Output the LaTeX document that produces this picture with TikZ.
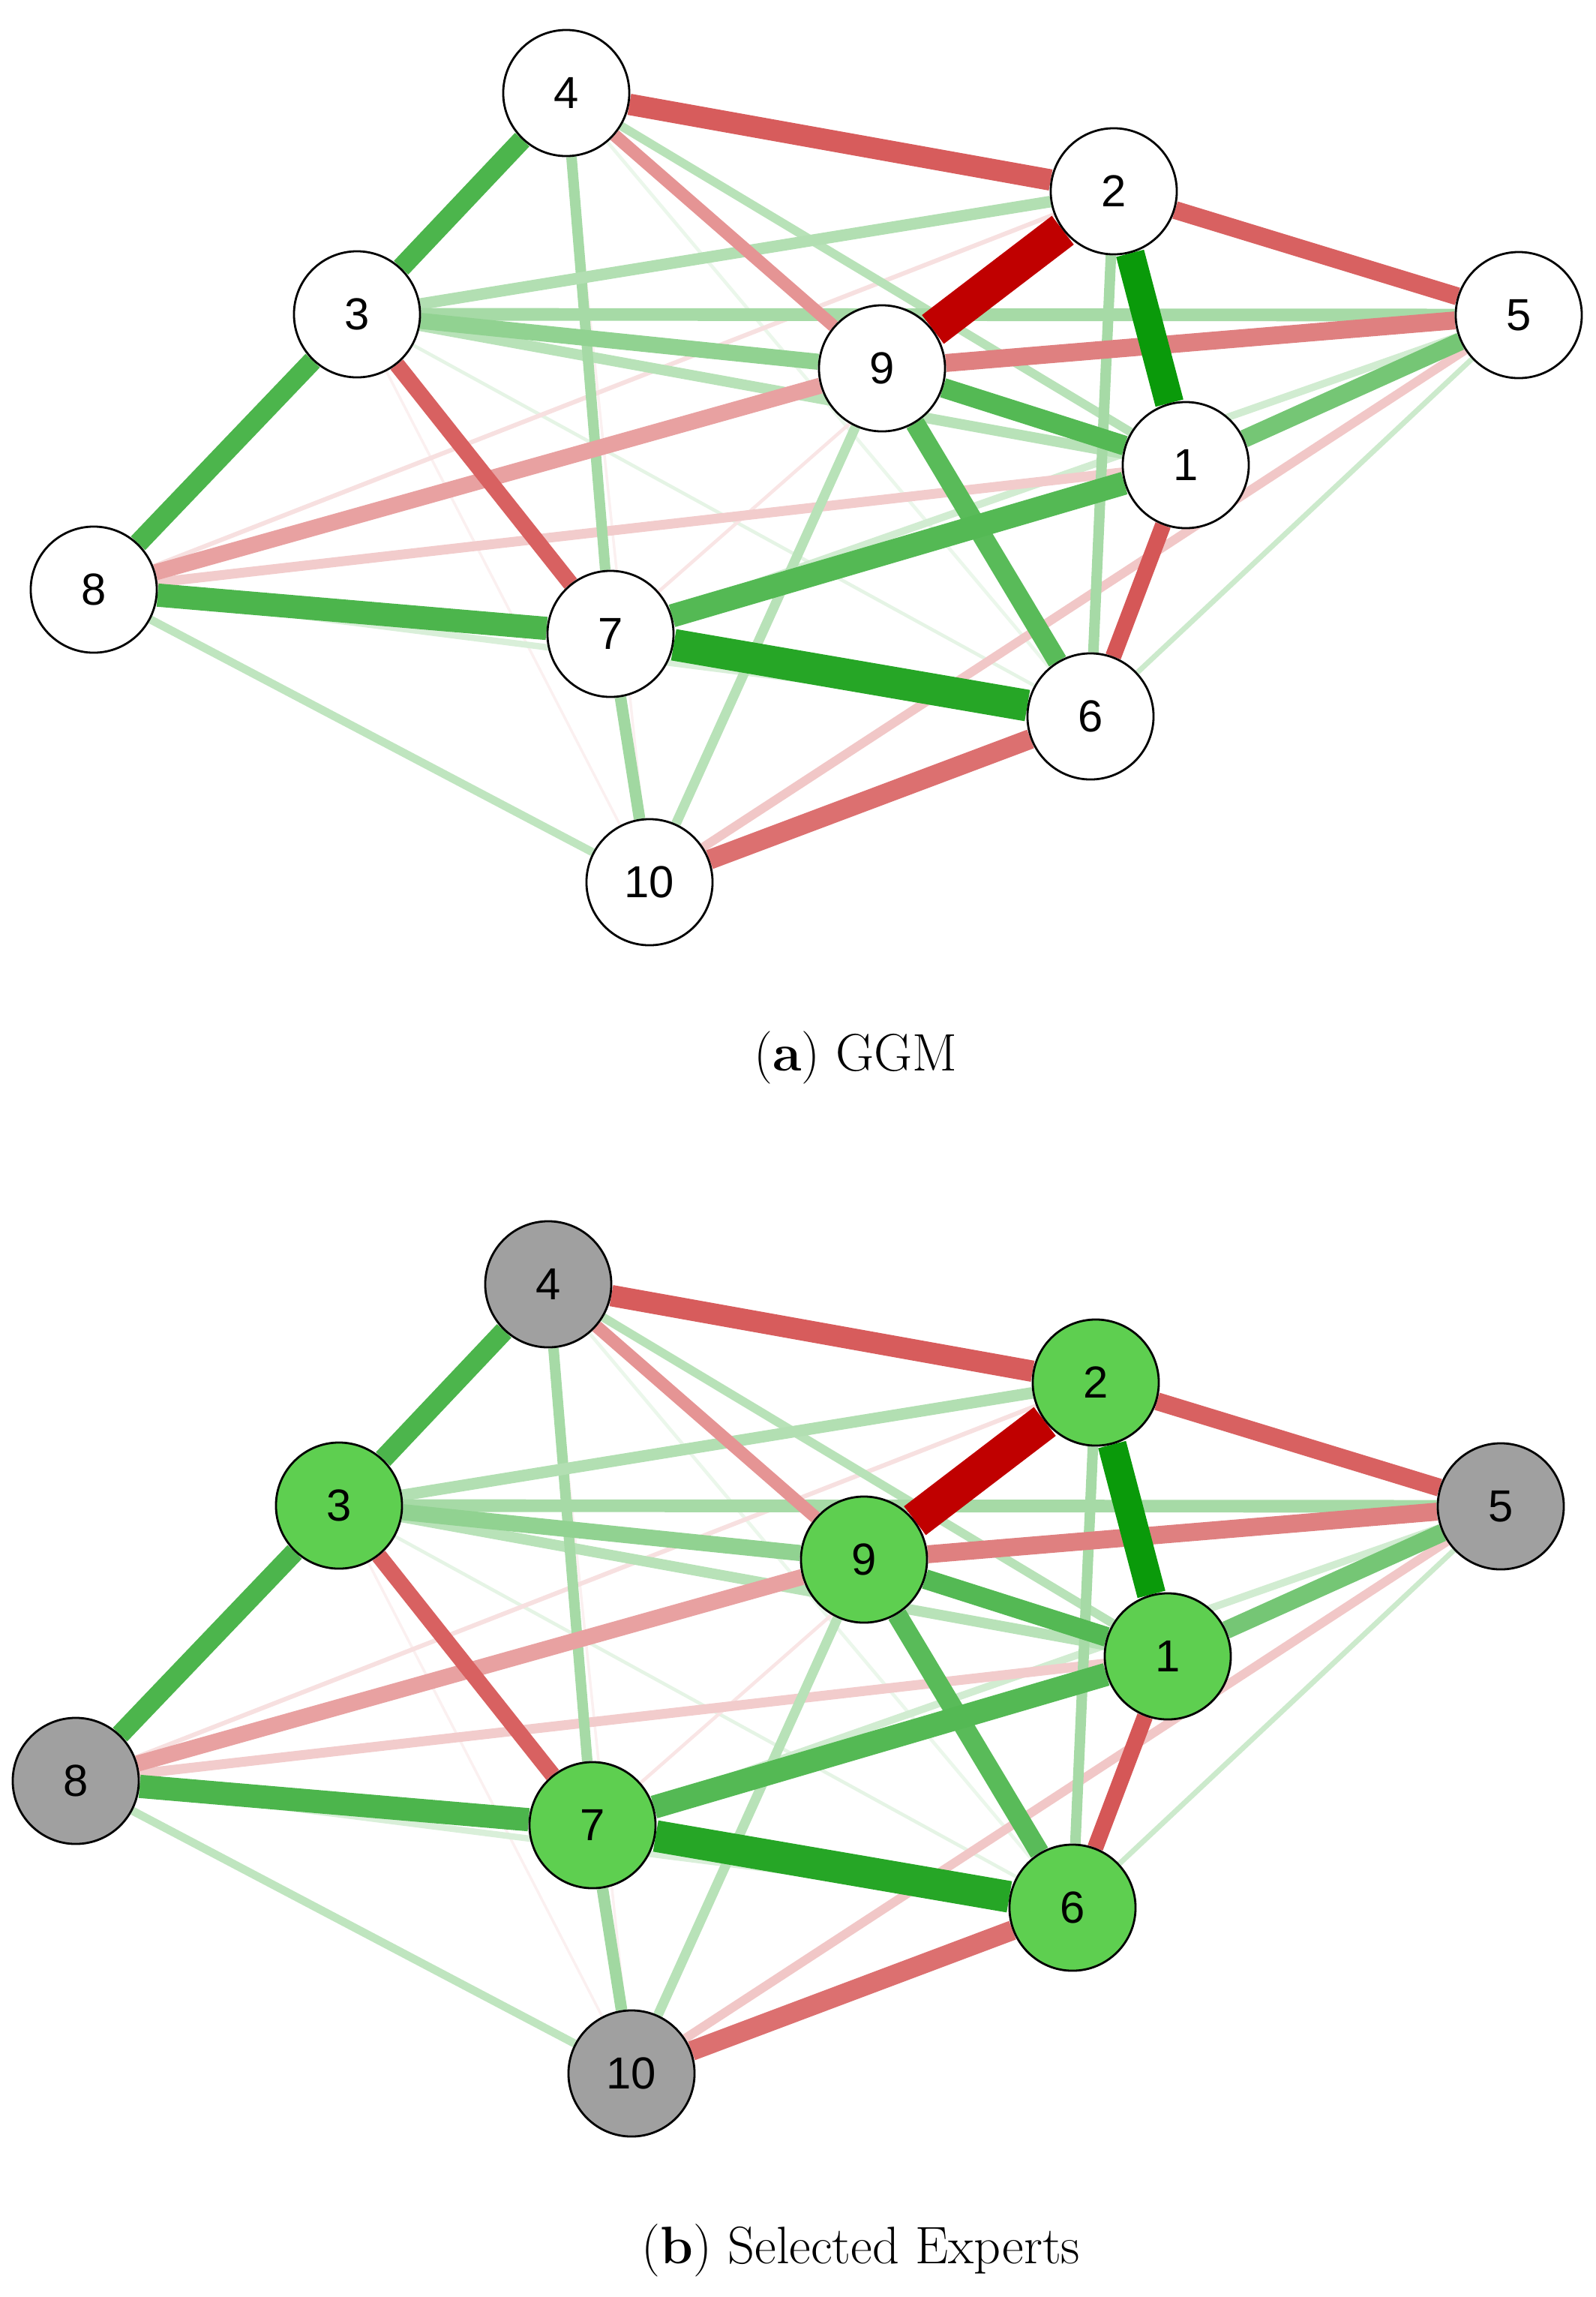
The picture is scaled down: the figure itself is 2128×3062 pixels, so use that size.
\documentclass[tikz,border=0pt]{standalone}
\usepackage{fontspec}
\setsansfont{Liberation Sans}
\usetikzlibrary{backgrounds}

\definecolor{posgreen}{RGB}{0,150,0}
\definecolor{negred}{RGB}{192,0,0}
\definecolor{selgreen}{RGB}{94,207,80}
\definecolor{restgray}{RGB}{160,160,160}

\tikzset{
  vertex/.style={circle, draw, line width=0.8pt, fill=white, minimum size=1.68cm,
    inner sep=0pt, font=\sffamily\fontsize{17}{17}\selectfont},
  expert/.style={vertex, fill=selgreen},
  nonexpert/.style={vertex, fill=restgray},
  caption/.style={font=\fontsize{20}{24}\selectfont}
}

\begin{document}
\begin{tikzpicture}[x=0.01cm, y=-0.01cm]
    \useasboundingbox (0,0) rectangle (2128,3062);

    % Draw nodes of (a)
    \node[vertex] (a1) at (1581,620) {1};
    \node[vertex] (a2) at (1485,255) {2};
    \node[vertex] (a3) at (476,419) {3};
    \node[vertex] (a4) at (755,124) {4};
    \node[vertex] (a5) at (2025,420) {5};
    \node[vertex] (a6) at (1454,955) {6};
    \node[vertex] (a7) at (814,845) {7};
    \node[vertex] (a8) at (125,786) {8};
    \node[vertex] (a9) at (1176,491) {9};
    \node[vertex] (a10) at (866,1176) {10};
    \node[caption] (capa) at (1141,1410) {(\textbf{a}) GGM};

    % Draw nodes of (b), selected experts in green
    \begin{scope}[shift={(-24,1588)}]
    \node[expert] (b1) at (1581,620) {1};
    \node[expert] (b2) at (1485,255) {2};
    \node[expert] (b3) at (476,419) {3};
    \node[nonexpert] (b4) at (755,124) {4};
    \node[nonexpert] (b5) at (2025,420) {5};
    \node[expert] (b6) at (1454,955) {6};
    \node[expert] (b7) at (814,845) {7};
    \node[nonexpert] (b8) at (125,786) {8};
    \node[expert] (b9) at (1176,491) {9};
    \node[nonexpert] (b10) at (866,1176) {10};
    \end{scope}
    \node[caption] (capb) at (1148,3000) {(\textbf{b}) Selected Experts};

    % Draw edges (weak first), same network in both panels
    \begin{pgfonlayer}{background}
    \foreach \p in {a,b} {
      \foreach \ea/\eb/\ecol/\ewd in {
          3/10/negred!6/1, 4/10/negred!6/1, 4/6/posgreen!8/1.3,
          3/6/posgreen!10/1.3, 2/7/negred!10/1.3, 8/2/negred!12/1.7,
          5/6/posgreen!20/2, 8/6/posgreen!15/2.4, 5/7/posgreen!18/2.8,
          8/10/posgreen!25/3.1, 4/1/posgreen!28/3.3, 5/10/negred!22/3.4,
          8/1/negred!20/3.7, 9/10/posgreen!28/3.7, 3/1/posgreen!28/4,
          2/6/posgreen!35/4, 4/7/posgreen!35/4, 3/2/posgreen!30/4.4,
          7/10/posgreen!37/4.4, 3/5/posgreen!35/4.8, 4/9/negred!42/4.8,
          3/9/posgreen!43/6.1, 9/8/negred!37/6.1, 9/5/negred!50/6.8,
          5/1/posgreen!54/6.8, 3/7/negred!62/6.1, 1/6/negred!66/6.1,
          2/5/negred!62/6.8, 6/10/negred!56/7.5, 4/2/negred!64/8.1,
          9/6/posgreen!65/7.5, 9/1/posgreen!67/7.5, 4/3/posgreen!70/7.5,
          3/8/posgreen!70/7.5, 8/7/posgreen!70/8.8, 7/1/posgreen!67/8.8,
          2/1/posgreen!96/10.9, 7/6/posgreen!85/12, 9/2/negred/13.7}
        \draw[draw=\ecol, line width=\ewd pt] (\p\ea) -- (\p\eb);
    }
    \end{pgfonlayer}
\end{tikzpicture}
\end{document}
